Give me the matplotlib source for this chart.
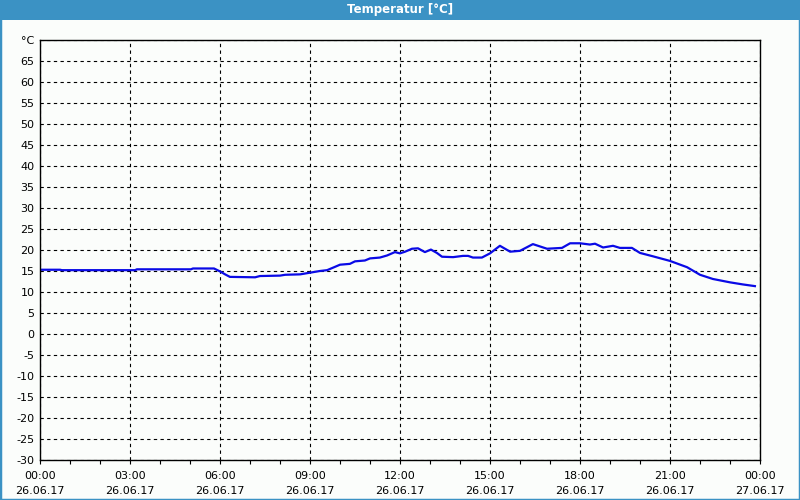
import matplotlib
matplotlib.use("Agg")
import matplotlib.pyplot as plt
from matplotlib.patches import Rectangle
from matplotlib.ticker import MultipleLocator

# ---- data (hours since 26.06.17 00:00, temperature in °C) ----
hours = [0.0, 0.67, 0.73, 3.17, 3.23, 5.03, 5.1, 5.8, 6.0, 6.17, 6.33, 7.17, 7.33,
         8.0, 8.17, 8.67, 9.0, 9.33, 9.57, 9.77, 10.0, 10.33, 10.5, 10.83, 11.0,
         11.33, 11.57, 11.83, 12.0, 12.17, 12.4, 12.6, 12.83, 13.03, 13.23, 13.4,
         13.77, 14.1, 14.27, 14.43, 14.73, 15.0, 15.33, 15.67, 16.0, 16.43, 16.9,
         17.4, 17.67, 18.0, 18.33, 18.5, 18.77, 19.1, 19.33, 19.73, 20.0, 20.43,
         21.0, 21.57, 22.0, 22.43, 23.0, 23.43, 23.83]
temps = [15.3, 15.3, 15.2, 15.2, 15.4, 15.4, 15.6, 15.6, 14.9, 14.2, 13.6, 13.5, 13.8,
         13.9, 14.1, 14.2, 14.6, 15.0, 15.2, 15.8, 16.5, 16.7, 17.3, 17.5, 18.0,
         18.2, 18.7, 19.5, 19.2, 19.6, 20.3, 20.4, 19.5, 20.1, 19.3, 18.4,
         18.3, 18.6, 18.6, 18.2, 18.2, 19.2, 21.0, 19.6, 19.8, 21.4, 20.3,
         20.5, 21.6, 21.6, 21.3, 21.5, 20.6, 21.0, 20.5, 20.5, 19.3, 18.5,
         17.4, 15.9, 14.1, 13.1, 12.3, 11.8, 11.4]

x_ticks = [0, 3, 6, 9, 12, 15, 18, 21, 24]
x_tick_labels = ["00:00\n26.06.17", "03:00\n26.06.17", "06:00\n26.06.17",
                 "09:00\n26.06.17", "12:00\n26.06.17", "15:00\n26.06.17",
                 "18:00\n26.06.17", "21:00\n26.06.17", "00:00\n27.06.17"]
y_ticks = list(range(-30, 70, 5)) + [70]
y_tick_labels = [str(v) for v in range(-30, 70, 5)] + ["°C"]
title = "Temperatur [°C]"

BLUE = "#3b92c4"
BG = "#fbfdfb"

fig = plt.figure(figsize=(8, 5), dpi=100, facecolor=BG)

# outer frame and title bar
fig.patches.append(Rectangle((0, 0), 1, 1, transform=fig.transFigure,
                             facecolor="none", edgecolor=BLUE, linewidth=2.5))
fig.patches.append(Rectangle((0, 1 - 20 / 500), 1, 20 / 500, transform=fig.transFigure,
                             facecolor=BLUE, edgecolor="none"))
fig.text(0.5, 1 - 10 / 500, title, color="white", fontsize=8.5, fontweight="bold",
         ha="center", va="center")

ax = fig.add_axes([40 / 800, 40 / 500, 720 / 800, 420 / 500])
ax.set_facecolor(BG)
ax.plot(hours, temps, color="#0a0ae6", linewidth=1.6, solid_joinstyle="round")

ax.set_xlim(0, 24)
ax.set_ylim(-30, 70)
ax.set_xticks(x_ticks)
ax.set_xticklabels(x_tick_labels, fontsize=8, linespacing=1.55)
ax.xaxis.set_minor_locator(MultipleLocator(1))
ax.set_yticks(y_ticks)
ax.set_yticklabels(y_tick_labels, fontsize=8)

ax.tick_params(axis="x", which="both", direction="out", length=3, width=0.8,
               pad=5, colors="black")
ax.tick_params(axis="y", length=0, pad=4)

ax.grid(True, which="major", color="black", linestyle=(0, (3, 3)), linewidth=0.8)
for s in ax.spines.values():
    s.set_color("black")
    s.set_linewidth(1.0)

fig.savefig("out.png", dpi=100, facecolor=BG)
